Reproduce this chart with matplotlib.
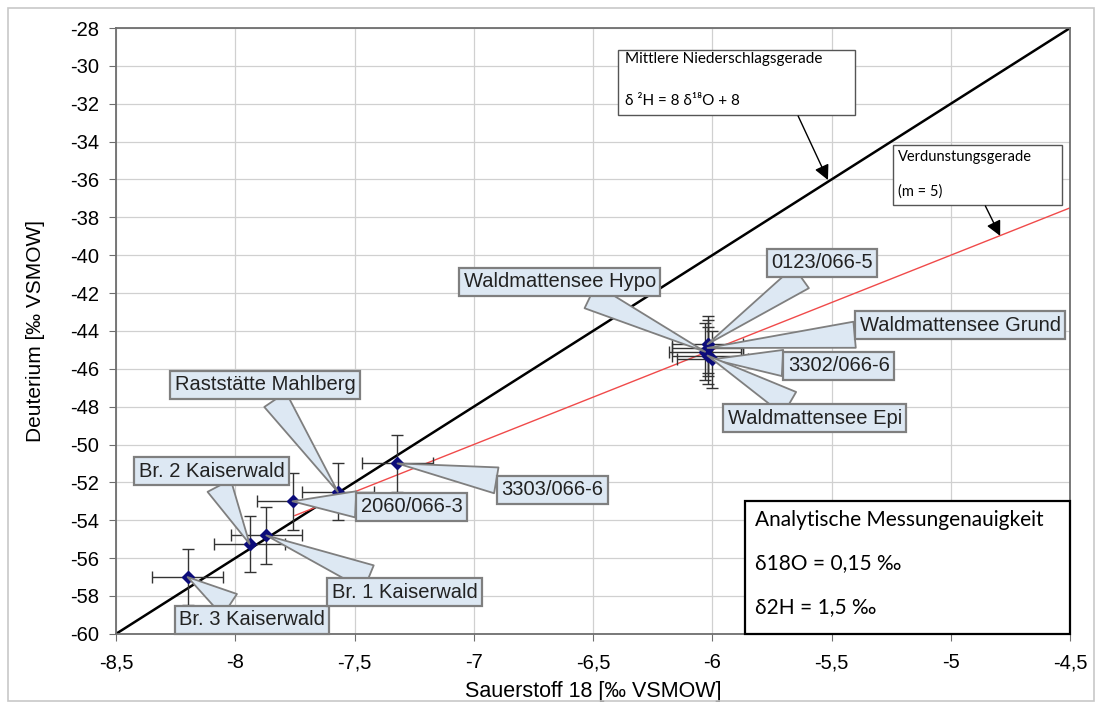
import matplotlib
matplotlib.use("Agg")
import matplotlib.pyplot as plt
from matplotlib.patches import Rectangle
import numpy as np

plt.rcParams["font.family"] = ["Liberation Sans", "DejaVu Sans"]
plt.rcParams["axes.unicode_minus"] = False

# sample values (delta 18O, delta 2H)
names = ["Br. 3 Kaiserwald", "Br. 2 Kaiserwald", "Br. 1 Kaiserwald", "2060/066-3",
         "Raststätte Mahlberg", "3303/066-6", "Waldmattensee Hypo", "0123/066-5",
         "Waldmattensee Grund", "3302/066-6", "Waldmattensee Epi"]
o18 = [-8.20, -7.94, -7.87, -7.76, -7.57, -7.32, -6.03, -6.02, -6.02, -6.00, -6.02]
h2 = [-57.0, -55.25, -54.8, -53.0, -52.5, -51.0, -45.1, -44.7, -44.9, -45.5, -45.3]
err_o18 = 0.15
err_h2 = 1.5

# meteoric water line and evaporation line
gmwl_x = [-8.5, -4.5]
gmwl_slope, gmwl_icpt = 8, 8
evap_x = [-7.75, -4.5]
evap_slope, evap_icpt = 5, -15

xticks = [-8.5, -8, -7.5, -7, -6.5, -6, -5.5, -5, -4.5]
yticks = list(range(-60, -27, 2))

# callout box centres (layout only)
label_pos = [(-7.93, -59.25), (-8.1, -51.4), (-7.29, -57.8), (-7.26, -53.3),
             (-7.875, -46.85), (-6.67, -52.4), (-6.64, -41.4), (-5.54, -40.4),
             (-4.96, -43.7), (-5.47, -45.85), (-5.57, -48.6)]

fig = plt.figure(figsize=(11.02, 7.09), dpi=100)
ax = fig.add_axes([0.1053, 0.106, 0.8657, 0.8545])

# outer frame of the chart
fig.patches.append(Rectangle((0.007, 0.011), 0.986, 0.978, transform=fig.transFigure,
                             fill=False, ec="#c8c8c8", lw=1.2))

ax.set_xlim(-8.5, -4.5)
ax.set_ylim(-60, -28)
ax.set_xticks(xticks)
ax.set_yticks(yticks)
ax.set_xticklabels([f"{t:g}".replace(".", ",") for t in xticks])
ax.grid(True, color="#d0d0d0", lw=0.9)
ax.set_axisbelow(True)
for s in ax.spines.values():
    s.set_color("#6e6e6e")
    s.set_linewidth(1.3)
ax.tick_params(labelsize=14.5, length=5, color="#6e6e6e")
ax.tick_params(axis="x", pad=9)
ax.tick_params(axis="y", pad=7)

gx = np.array(gmwl_x)
ax.plot(gx, gmwl_slope * gx + gmwl_icpt, color="black", lw=1.8, zorder=2)
ex = np.array(evap_x)
ax.plot(ex, evap_slope * ex + evap_icpt, color="#f04a4a", lw=1.0, zorder=2)

ax.errorbar(o18, h2, xerr=err_o18, yerr=err_h2, fmt="none", ecolor="#333333",
            elinewidth=1.0, capsize=4, capthick=1.0, zorder=3)
ax.plot(o18, h2, "D", color="#0c0c7a", ms=6.5, mec="#0c0c7a", zorder=4, ls="none")

for name, x, y, (lx, ly) in zip(names, o18, h2, label_pos):
    ax.annotate(name, xy=(x, y), xytext=(lx, ly), ha="center", va="center",
                fontsize=14.5, color="#222222",
                bbox=dict(boxstyle="square,pad=0.22", fc="#dde8f3", ec="#7f7f7f", lw=1.6),
                arrowprops=dict(arrowstyle="wedge,tail_width=1.3,shrink_factor=0.5",
                                fc="#dde8f3", ec="#7f7f7f", lw=1.3, shrinkA=0, shrinkB=0),
                zorder=5)

cal = ["Lato", "DejaVu Sans"]

# Mittlere Niederschlagsgerade box
ax.add_patch(Rectangle((-6.395, -32.59), 0.994, 3.43, fc="white", ec="#555555",
                       lw=1.0, zorder=6, clip_on=False))
ax.text(-6.365, -29.65, "Mittlere Niederschlagsgerade", fontsize=11, family=cal,
        va="center", zorder=7)
ax.text(-6.365, -31.85, "δ ²H = 8 δ¹⁸O + 8", fontsize=11, family=cal,
        va="center", zorder=7)
ax.annotate("", xy=(-5.515, -36.03), xytext=(-5.64, -32.65),
            arrowprops=dict(arrowstyle="-|>,head_length=0.9,head_width=0.45",
                            color="black", lw=1.0, shrinkA=0, shrinkB=0), zorder=6)

# Verdunstungsgerade box
ax.add_patch(Rectangle((-5.242, -37.35), 0.709, 3.17, fc="white", ec="#555555",
                       lw=1.0, zorder=6, clip_on=False))
ax.text(-5.22, -34.8, "Verdunstungsgerade", fontsize=10.5, family=cal,
        va="center", zorder=7)
ax.text(-5.22, -36.65, "(m = 5)", fontsize=10.5, family=cal, va="center", zorder=7)
ax.annotate("", xy=(-4.793, -38.98), xytext=(-4.855, -37.4),
            arrowprops=dict(arrowstyle="-|>,head_length=0.9,head_width=0.45",
                            color="black", lw=1.0, shrinkA=0, shrinkB=0), zorder=6)

# measurement accuracy box
ax.add_patch(Rectangle((-5.863, -60.0), 1.363, 7.0, fc="white", ec="black",
                       lw=1.6, zorder=6, clip_on=False))
ax.text(-5.82, -54.0, "Analytische Messungenauigkeit", fontsize=15, family=cal,
        va="center", zorder=7)
ax.text(-5.82, -56.25, "δ18O = 0,15 ‰", fontsize=15, family=cal, va="center", zorder=7)
ax.text(-5.82, -58.6, "δ2H = 1,5 ‰", fontsize=15, family=cal, va="center", zorder=7)

ax.set_xlabel("Sauerstoff 18 [‰ VSMOW]", fontsize=15.5, labelpad=6)
ax.set_ylabel("Deuterium [‰ VSMOW]", fontsize=15, labelpad=18)

fig.savefig("out.png", dpi=100)
